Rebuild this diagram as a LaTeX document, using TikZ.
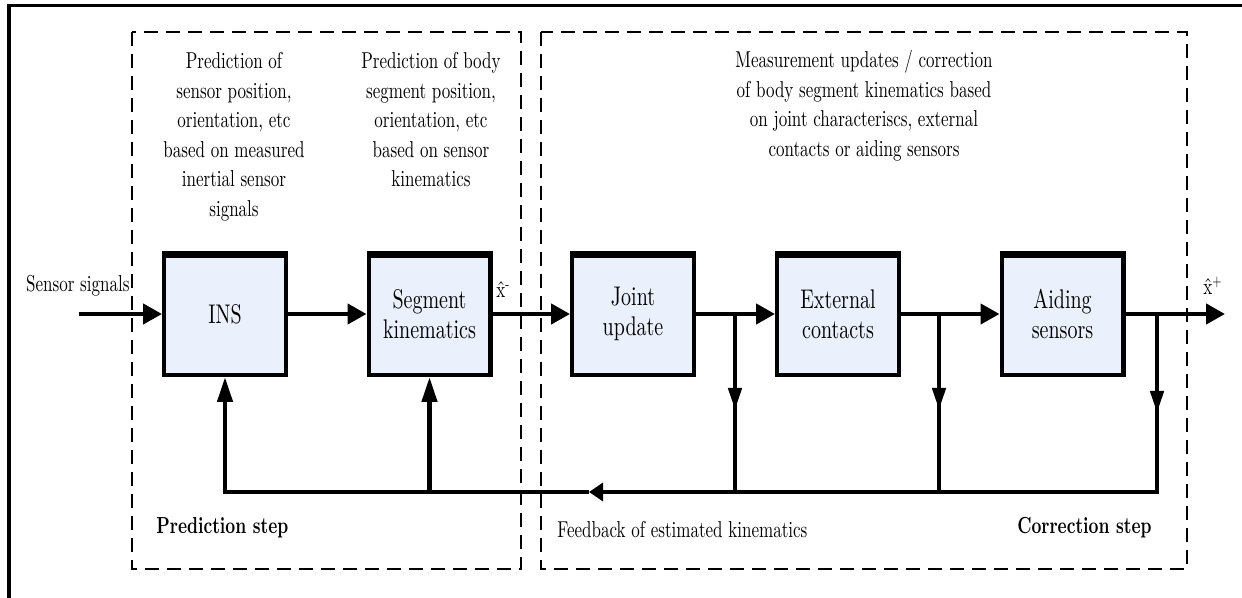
\documentclass[tikz,border=0pt]{standalone}
\usepackage{fontspec}
\setmainfont{lmroman10-regular.otf}[BoldFont=lmroman10-bold.otf, FakeStretch=0.74]
\usetikzlibrary{arrows.meta,calc}

\definecolor{boxfill}{RGB}{234,240,252}

\tikzset{
	block/.style={draw, line width=2.2pt, fill=boxfill, minimum width=60.8pt,
		minimum height=60.8pt, inner sep=0pt, align=center,
		font=\fontsize{13.5}{15}\selectfont},
	note/.style={align=center, inner sep=0pt, font=\fontsize{11.5}{14.75}\selectfont},
	steplabel/.style={inner sep=0pt, font=\fontsize{11.6}{13}\selectfont\bfseries},
	flow/.style={line width=2.2pt},
	fwd/.style={flow, -{Triangle[length=9.5pt,width=10pt]}},
	down/.style={flow, -{Triangle[length=11pt,width=6.5pt]}},
	up/.style={flow, -{Triangle[length=12.5pt,width=7.5pt]}},
	back/.style={flow, -{Triangle[length=7pt,width=9pt]}},
	region/.style={line width=0.75pt, dash pattern=on 7pt off 4pt},
}

\begin{document}
\begin{tikzpicture}[x=0.5pt, y=-0.5pt]

% frame %{{{1

	\useasboundingbox (0,0) rectangle (1242,598);
	\draw[line width=1.75pt] (9,598) -- (9,5.5) -- (1242,5.5);

% regions %{{{1

	\draw[region] (132,32) rectangle (521,569);
	\draw[region] (541,32) rectangle (1187,569);

% coordinates %{{{1

	\coordinate (in) at (79,314);
	\coordinate (out) at (1225,314);

	\coordinate (b1) at (735,314);
	\coordinate (b2) at (939,314);
	\coordinate (b3) at (1157,314);

	\coordinate (d1) at (735,410);
	\coordinate (d2) at (939,410);
	\coordinate (d3) at (1157,413);

	\coordinate (f3) at (1157,492);
	\coordinate (fb) at (589,492);
	\coordinate (fins) at (225,492);
	\coordinate (fseg) at (429.5,492);

% blocks %{{{1

	\node[block] (ins) at (225,314) {INS};
	\node[block] (seg) at (429.5,314) {Segment\\kinematics};
	\node[block] (joint) at (633,314) {Joint\\update};
	\node[block] (ext) at (838,314) {External\\contacts};
	\node[block] (aid) at (1062.5,314) {Aiding\\sensors};

	\foreach \b in {ins,seg,joint,ext,aid}
		\draw[line width=3.5pt] ([yshift=-1.75pt]\b.north west) -- ([yshift=-1.75pt]\b.north east);

% forward path %{{{1

	\draw[fwd] (in) -- (ins);
	\draw[fwd] (ins) -- (seg);
	\draw[fwd] (seg) -- (joint);
	\draw[fwd] (joint) -- (ext);
	\draw[fwd] (ext) -- (aid);
	\draw[fwd] (aid) -- (out);

% feedback path %{{{1

	\draw[flow] (b1) -- (b1 |- f3);
	\draw[flow] (b2) -- (b2 |- f3);
	\draw[back] (b3) -- (f3) -- (fb);
	\draw[up] (fb) -- (fins) -- (ins);
	\draw[up] (fseg) -- (seg);

	\draw[down] (b1) -- (d1);
	\draw[down] (b2) -- (d2);
	\draw[down] (b3) -- (d3);

% labels %{{{1

	\node[note, anchor=north] (predsens) at (234,52)
		{Prediction of\\sensor position,\\orientation, etc\\based on measured\\inertial sensor\\signals};
	\node[note, anchor=north] (predseg) at (431,52)
		{Prediction of body\\segment position,\\orientation, etc\\based on sensor\\kinematics};
	\node[note, anchor=north] (meas) at (864,50)
		{Measurement updates / correction\\of body segment kinematics based\\on joint characteriscs, external\\contacts or aiding sensors};

	\node[note, anchor=base east] (sens) at (130,292) {Sensor signals};
	\node[note, anchor=base west] (xminus) at (496,298) {\^x\textsuperscript{-}};
	\node[note, anchor=base west] (xplus) at (1203,295) {\^x\textsuperscript{+}};

	\node[steplabel, anchor=base west] (pstep) at (156,533) {Prediction step};
	\node[note, anchor=base west] (fbk) at (557,538) {Feedback of estimated kinematics};
	\node[steplabel, anchor=base east] (cstep) at (1152,533) {Correction step};

% closing %{{{1

\end{tikzpicture}
\end{document}
